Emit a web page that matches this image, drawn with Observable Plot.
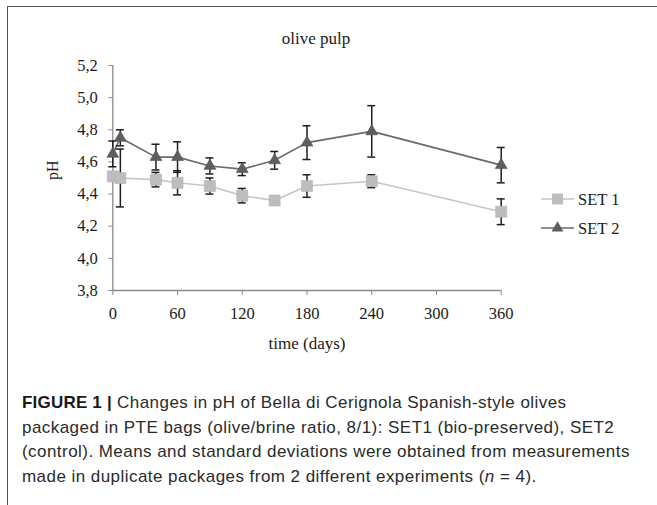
<!DOCTYPE html>
<html>
<head>
<meta charset="utf-8">
<script src="https://cdn.jsdelivr.net/npm/d3@7"></script>
<script src="https://cdn.jsdelivr.net/npm/@observablehq/plot@0.6"></script>
<style>
  html, body { margin: 0; padding: 0; background: #fff; }
  #fig { position: relative; width: 657px; height: 505px; overflow: hidden; background: #fff; }
  #frame { position: absolute; left: 7px; top: 6px; width: 700px; height: 600px;
           border-left: 1.5px solid #555; border-top: 1.5px solid #555; }
  #chart { position: absolute; left: 0; top: 0; }
  #title { position: absolute; left: 216px; width: 200px; top: 29px; text-align: center;
           font-family: "Liberation Serif", serif; font-size: 17px; color: #1a1a1a; }
  #legend { position: absolute; left: 0; top: 0; }
  #caption { position: absolute; left: 22px; top: 391px; white-space: nowrap;
             font-family: "Liberation Sans", Arial, sans-serif; font-size: 17px;
             letter-spacing: 0.45px; line-height: 24.5px; color: #2a2a2a; }
  #caption b { color: #1a1a1a; letter-spacing: 0.2px; }
</style>
</head>
<body>
<div id="fig">
  <div id="frame"></div>
  <div id="chart"></div>
  <div id="title">olive pulp</div>
  <svg id="legend" width="657" height="370"></svg>
  <div id="caption">
    <b>FIGURE 1 |</b> Changes in pH of Bella di Cerignola Spanish-style olives<br>
    packaged in PTE bags (olive/brine ratio, 8/1): SET1 (bio-preserved), SET2<br>
    (control). Means and standard deviations were obtained from measurements<br>
    made in duplicate packages from 2 different experiments (<i>n</i> = 4).
  </div>
</div>
<script>
// Sampling days and pH readings (means and standard deviations)
const days = [0, 7, 40, 60, 90, 120, 150, 180, 240, 360];
const set1 = [4.51, 4.50, 4.49, 4.47, 4.45, 4.39, 4.36, 4.45, 4.48, 4.29];
const set1Sd = [0.02, 0.18, 0.045, 0.075, 0.05, 0.045, 0.01, 0.07, 0.04, 0.08];
const set2 = [4.65, 4.75, 4.63, 4.63, 4.575, 4.555, 4.61, 4.72, 4.79, 4.58];
const set2Sd = [0.08, 0.05, 0.08, 0.095, 0.05, 0.04, 0.055, 0.105, 0.16, 0.11];

const xTicks = [0, 60, 120, 180, 240, 300, 360];
const yTicks = [3.8, 4.0, 4.2, 4.4, 4.6, 4.8, 5.0, 5.2];
const seriesNames = ["SET 1", "SET 2"];

const rows1 = days.map((d, i) => ({day: d, v: set1[i], sd: set1Sd[i]}));
const rows2 = days.map((d, i) => ({day: d, v: set2[i], sd: set2Sd[i]}));

const c1Line = "#c6c6c6", c1Fill = "#bdbdbd";
const c2Line = "#6a6a6a", c2Fill = "#5e5e5e";
const errColor = "#1e1e1e";

function errorBars(rows) {
  return [
    Plot.ruleX(rows, {x: "day", y1: d => d.v - d.sd, y2: d => d.v + d.sd, stroke: errColor, strokeWidth: 1.5}),
    Plot.ruleY(rows, {y: d => d.v + d.sd, x1: "day", x2: "day", insetLeft: -4, insetRight: -4, stroke: errColor, strokeWidth: 1.5}),
    Plot.ruleY(rows, {y: d => d.v - d.sd, x1: "day", x2: "day", insetLeft: -4, insetRight: -4, stroke: errColor, strokeWidth: 1.5})
  ];
}

const chart = Plot.plot({
  width: 657,
  height: 370,
  marginLeft: 112.3,
  marginRight: 156.3,
  marginTop: 65,
  marginBottom: 80,
  style: {fontFamily: "Liberation Serif, serif", fontSize: "16.5px", color: "#1a1a1a", background: "transparent"},
  x: {domain: [0, 360]},
  y: {domain: [3.8, 5.2]},
  marks: [
    Plot.ruleX([0], {stroke: "#8a8a8a", strokeWidth: 1.3}),
    Plot.ruleY([3.8], {stroke: "#8a8a8a", strokeWidth: 1.3}),
    Plot.axisX({ticks: xTicks, tickSize: 5, tickPadding: 12, label: null, stroke: "#8a8a8a", fontSize: 16.5}),
    Plot.axisY({ticks: yTicks, tickSize: 4, tickPadding: 11, label: null, stroke: "#8a8a8a", fontSize: 16.5,
                tickFormat: d => d.toFixed(1).replace(".", ",")}),
    Plot.text(["time (days)"], {frameAnchor: "bottom", dy: 58, fontSize: 17}),
    Plot.text(["pH"], {frameAnchor: "left", dx: -60, dy: 2, rotate: -90, fontSize: 16}),
    Plot.line(rows1, {x: "day", y: "v", stroke: c1Line, strokeWidth: 1.6}),
    Plot.line(rows2, {x: "day", y: "v", stroke: c2Line, strokeWidth: 1.6}),
    ...errorBars(rows1),
    ...errorBars(rows2),
    Plot.dot(rows1, {x: "day", y: "v", symbol: "square", r: 6.2, fill: c1Fill, stroke: "#b0b0b0", strokeWidth: 0.6}),
    Plot.dot(rows2, {x: "day", y: "v", symbol: "triangle", r: 4.4, fill: c2Fill, stroke: "#505050", strokeWidth: 0.6})
  ]
});
document.getElementById("chart").appendChild(chart);

// Legend: line segment with marker, followed by the series name
const legend = d3.select("#legend");
const legendItems = [
  {name: seriesNames[0], y: 199, line: c1Line, fill: c1Fill, symbol: d3.symbolSquare, r: 6.2},
  {name: seriesNames[1], y: 228, line: c2Line, fill: c2Fill, symbol: d3.symbolTriangle, r: 4.4}
];
for (const it of legendItems) {
  legend.append("line").attr("x1", 541).attr("x2", 574).attr("y1", it.y).attr("y2", it.y)
    .attr("stroke", it.line).attr("stroke-width", 1.6);
  legend.append("path").attr("transform", `translate(557.5,${it.y})`)
    .attr("d", d3.symbol(it.symbol, Math.PI * it.r * it.r)())
    .attr("fill", it.fill);
  legend.append("text").attr("x", 578).attr("y", it.y).attr("dy", "0.34em")
    .attr("font-family", "Liberation Serif, serif").attr("font-size", 16.5).attr("fill", "#1a1a1a")
    .text(it.name);
}
</script>
</body>
</html>
